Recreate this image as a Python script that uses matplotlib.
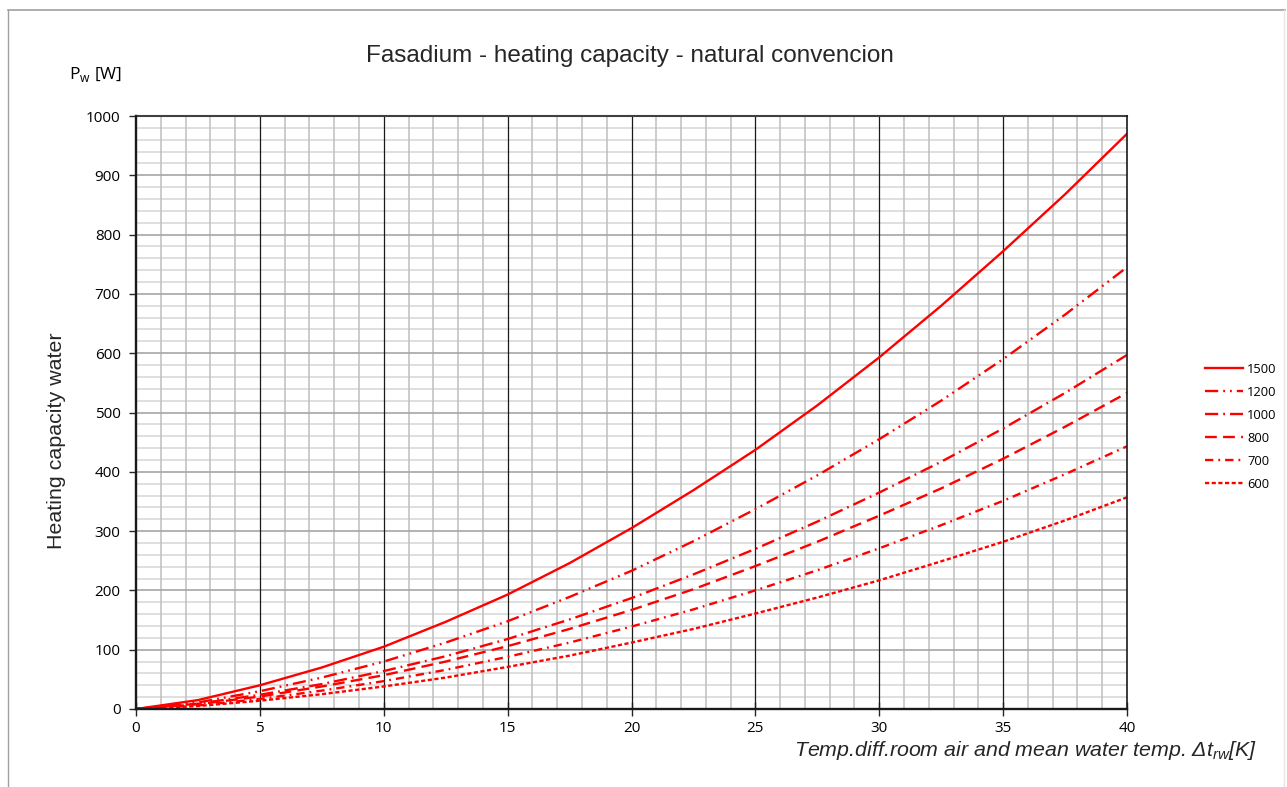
import matplotlib
matplotlib.use("Agg")
import matplotlib.pyplot as plt
from matplotlib.lines import Line2D
from matplotlib.ticker import MultipleLocator
import numpy as np

plt.rcParams['font.family'] = ['Open Sans', 'DejaVu Sans']
plt.rcParams['lines.scale_dashes'] = False

dt = [0, 2.5, 5, 7.5, 10, 12.5, 15, 17.5, 20, 22.5, 25, 27.5, 30, 32.5, 35, 37.5, 40]
p1500 = [0, 15, 40, 70, 105, 147, 193, 246, 305, 369, 437, 512, 593, 680, 772, 868, 970]
p1200 = [0, 11, 30, 53, 80, 112, 148, 189, 233, 283, 337, 394, 455, 520, 590, 665, 745]
p1000 = [0, 9, 24, 42, 64, 89, 118, 151, 187, 227, 270, 316, 365, 417, 473, 533, 597]
p800 = [0, 8, 21, 38, 57, 80, 106, 135, 167, 202, 241, 282, 326, 372, 422, 476, 533]
p700 = [0, 6, 17, 31, 47, 66, 88, 112, 139, 168, 200, 234, 271, 310, 351, 396, 443]
p600 = [0, 5, 14, 25, 38, 53, 71, 90, 112, 135, 161, 188, 217, 249, 282, 318, 357]
labels = ['1500', '1200', '1000', '800', '700', '600']
series = [p1500, p1200, p1000, p800, p700, p600]
styles = ['-',
          (0, (9.5, 3.6, 1.3, 3.6, 1.3, 3.6)),
          (0, (9.5, 3.6, 1.3, 3.6)),
          (0, (8.5, 4.5)),
          (0, (6, 3.6, 1.3, 3.6)),
          (0, (3, 1.8))]

fig = plt.figure(figsize=(12.87, 7.87), dpi=100)
ax = fig.add_axes([136/1287, 1-709/787, (1127-136)/1287, (709-116)/787])

handles = []
for lab, s, ls in zip(labels, series, styles):
    h, = ax.plot(dt, s, color='#ff0000', lw=1.7, linestyle=ls, label=lab,
                 dash_capstyle='butt', zorder=5)
    handles.append(h)

ax.set_xlim(0, 40)
ax.set_ylim(0, 1000)
ax.xaxis.set_major_locator(MultipleLocator(5))
ax.yaxis.set_major_locator(MultipleLocator(100))

# grid drawn manually for layered look
for yv in np.arange(20, 1000, 20):
    if yv % 100 == 0:
        ax.axhline(yv, color='#a6a6a6', lw=1.2, zorder=1.2)
    else:
        ax.axhline(yv, color='#d9d9d9', lw=1.2, zorder=1)
for xv in np.arange(1, 40, 1):
    if xv % 5 == 0:
        ax.axvline(xv, color='#1a1a1a', lw=0.9, zorder=2)
    else:
        ax.axvline(xv, color='#bfbfbf', lw=1.1, zorder=1.1)

ax.tick_params(which='major', direction='out', length=5, width=1, colors='#262626',
               labelsize=11, labelcolor='black')
ax.tick_params(axis='x', direction='inout', length=10, pad=4)
ax.tick_params(axis='y', pad=6)

for side in ['left', 'bottom', 'right']:
    ax.spines[side].set_color('#1a1a1a')
    ax.spines[side].set_linewidth(1.7)
    ax.spines[side].set_zorder(6)
ax.spines['top'].set_color('#404040')
ax.spines['top'].set_linewidth(1.5)
ax.spines['right'].set_linewidth(1.2)

fig.text(630/1287, 1-56/787, 'Fasadium - heating capacity - natural convencion',
         ha='center', va='center', fontsize=17.5, family=['Liberation Sans', 'DejaVu Sans'],
         color='#262626')
fig.text(69/1287, 1-74/787, r'P$_\mathregular{w}$ [W]', ha='left', va='center',
         fontsize=12.5)
fig.text(57/1287, 1-441/787, 'Heating capacity water', rotation=90, ha='center',
         va='center', fontsize=15.4, family=['Liberation Sans', 'DejaVu Sans'],
         color='#262626')
fig.text(1257/1287, 1-750/787,
         r'Temp.diff.room air and mean water temp. $\mathregular{\Delta t_{rw}}$[K]',
         ha='right', va='center', fontsize=15.4, style='italic',
         family=['Liberation Sans', 'DejaVu Sans'], color='#262626')

fig.legend(handles=handles, labels=labels, loc='upper left',
           bbox_to_anchor=(1193/1287, 1-351/787), frameon=False, fontsize=9.3,
           handlelength=3.0, handletextpad=0.3, labelspacing=0.78)

fig.add_artist(Line2D([8/1287, 1285/1287], [1-10/787, 1-10/787],
                      transform=fig.transFigure, color='#a0a0a0', lw=1.2))
fig.add_artist(Line2D([8/1287, 8/1287], [1-10/787, 0], transform=fig.transFigure,
                      color='#a0a0a0', lw=1.0))
fig.add_artist(Line2D([1284/1287, 1284/1287], [1-10/787, 0], transform=fig.transFigure,
                      color='#e6e6e6', lw=1.0))

fig.savefig('out.png', dpi=100)
